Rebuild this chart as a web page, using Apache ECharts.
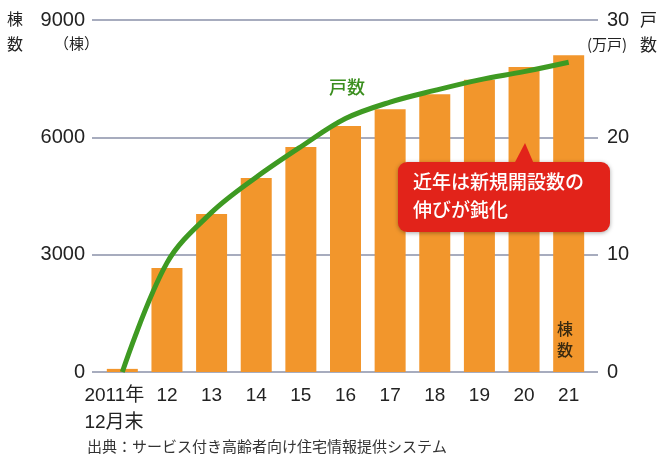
<!DOCTYPE html>
<html><head><meta charset="utf-8">
<script src="https://cdn.jsdelivr.net/npm/echarts@6/dist/echarts.min.js"></script>
<style>html,body{margin:0;padding:0;background:#fff}#c{width:664px;height:457px}</style>
</head><body><div id="c"></div>
<script>
var categories = ['2011年\n12月末','12','13','14','15','16','17','18','19','20','21'];
var buildings = [80, 2660, 4040, 4960, 5750, 6290, 6720, 7100, 7470, 7800, 8100];
var units = [0, 9.3, 13.6, 16.6, 19.2, 21.6, 23.0, 24.0, 24.9, 25.6, 26.4];
var leftTicks = [0, 3000, 6000, 9000];
var rightTicks = [0, 10, 20, 30];

var FONT = '"Liberation Sans", "Noto Sans CJK JP", sans-serif';
var CJK = '"Noto Sans CJK JP", sans-serif';
var chart = echarts.init(document.getElementById('c'), null, {renderer:'canvas'});
chart.setOption({
  backgroundColor:'#fff',
  animation:false,
  grid:[
    {left:100, right:73, top:20, bottom:85},
    {left:92, right:66, top:20, bottom:85}
  ],
  xAxis:[
    {type:'category', gridIndex:0, data:categories, boundaryGap:true,
     axisLine:{show:false}, axisTick:{show:false},
     axisLabel:{color:'#222', fontSize:19, fontFamily:FONT, margin:10, lineHeight:27, interval:0,
       formatter:function(v, i){
         if (v.indexOf('\n') >= 0) {
           var p = v.split('\n');
           return '{a|' + p[0] + '}\n{a|' + p[1] + '}';
         }
         return v;
       },
       rich:{a:{fontSize:19, fontFamily:FONT, color:'#222', lineHeight:27, align:'left', padding:[0,16,0,0]}}}},
    {type:'value', gridIndex:1, show:false, min:0, max:1}
  ],
  yAxis:[
    {type:'value', gridIndex:0, min:leftTicks[0], max:leftTicks[3], interval:3000,
     axisLine:{show:false}, axisTick:{show:false}, splitLine:{show:false},
     axisLabel:{color:'#222', fontSize:20, fontFamily:FONT, margin:15, formatter:function(v){return String(v);}}},
    {type:'value', gridIndex:0, position:'right', min:rightTicks[0], max:rightTicks[3], interval:10,
     axisLine:{show:false}, axisTick:{show:false}, splitLine:{show:false},
     axisLabel:{color:'#222', fontSize:20, fontFamily:FONT, margin:16}},
    {type:'value', gridIndex:1, min:0, max:9000, interval:3000,
     axisLine:{show:false}, axisTick:{show:false}, axisLabel:{show:false},
     splitLine:{show:true, lineStyle:{color:'#8a91a8', width:1.5}}}
  ],
  series:[
    {type:'bar', xAxisIndex:0, yAxisIndex:0, data:buildings, barWidth:31,
     itemStyle:{color:'#f2962c'}, z:3},
    {type:'line', xAxisIndex:0, yAxisIndex:1, data:units, smooth:0.35, symbol:'none',
     lineStyle:{color:'#3e9a22', width:5}, z:4}
  ],
  graphic:[
    {type:'text', left:7, top:11, style:{text:'棟', font:'16px '+CJK, fill:'#222'}},
    {type:'text', left:7, top:36, style:{text:'数', font:'16px '+CJK, fill:'#222'}},
    {type:'text', left:54, top:36, style:{text:'（棟）', font:'15px '+CJK, fill:'#222'}},
    {type:'text', left:640, top:11, style:{text:'戸', font:'17px '+CJK, fill:'#222'}},
    {type:'text', left:640, top:36, style:{text:'数', font:'17px '+CJK, fill:'#222'}},
    {type:'text', left:587, top:37, style:{text:'(万戸)', font:'15px '+CJK, fill:'#222'}},
    {type:'text', left:329, top:78, style:{text:'戸数', font:'500 18px '+CJK, fill:'#3a8e1e'}, z:50},
    {type:'text', left:557, top:318, style:{text:'棟\n数', font:'500 16px '+CJK, fill:'#3a2a10', lineHeight:21}, z:50},
    {type:'rect', z:100, shape:{x:398, y:162, width:212, height:70, r:9},
     style:{fill:'#e2231a', shadowBlur:4, shadowColor:'rgba(0,0,0,0.35)', shadowOffsetY:1}},
    {type:'polygon', z:101, shape:{points:[[514,164],[534,164],[525,143]]}, style:{fill:'#e2231a'}},
    {type:'text', z:102, x:413, y:172, style:{text:'近年は新規開設数の', font:'500 19px '+CJK, fill:'#fff'}},
    {type:'text', z:102, x:413, y:200, style:{text:'伸びが鈍化', font:'500 19px '+CJK, fill:'#fff'}},
    {type:'text', left:87, top:439, style:{text:'出典：サービス付き高齢者向け住宅情報提供システム', font:'15px '+CJK, fill:'#333'}}
  ]
});
</script></body></html>
